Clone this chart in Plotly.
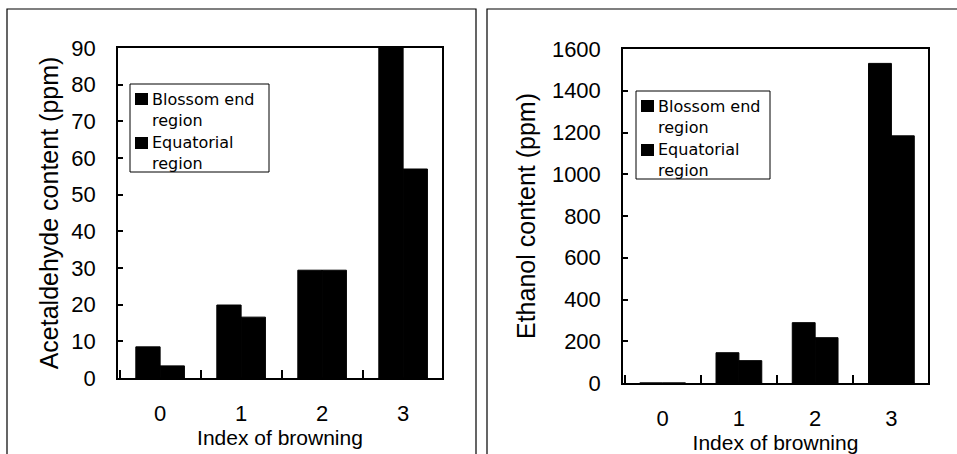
import plotly.graph_objects as go

categories = ["0", "1", "2", "3"]
acet_blossom = [8.5, 19.9, 29.4, 90]
acet_equatorial = [3.3, 16.6, 29.4, 57]
eth_blossom = [0, 145, 289, 1531]
eth_equatorial = [0, 107, 217, 1184]
acet_ticks = [0, 10, 20, 30, 40, 50, 60, 70, 80, 90]
eth_ticks = [0, 200, 400, 600, 800, 1000, 1200, 1400, 1600]
series_names = ["Blossom end region", "Equatorial region"]
legend_text = ["Blossom end<br>region", "Equatorial<br>region"]

W, H = 957, 454
FONT = "Liberation Sans"
LFONT = "DejaVu Sans"

fig = go.Figure()
for vals, name in [(acet_blossom, series_names[0]), (acet_equatorial, series_names[1])]:
    fig.add_trace(go.Bar(x=categories, y=vals, name=name,
                         marker=dict(color="black", line=dict(width=1, color="black")),
                         xaxis="x", yaxis="y", showlegend=False))
for vals, name in [(eth_blossom, series_names[0]), (eth_equatorial, series_names[1])]:
    fig.add_trace(go.Bar(x=categories, y=vals, name=name,
                         marker=dict(color="black", line=dict(width=1, color="black")),
                         xaxis="x2", yaxis="y2", showlegend=False))


def px(v):
    return v / W


def py(v):
    return 1 - v / H


xcommon = dict(type="category", range=[-0.52, 3.48], showline=True, linecolor="black", linewidth=1.5,
               mirror=True, ticks="inside", tickson="boundaries", ticklen=8, tickwidth=1.5, tickcolor="black",
               showgrid=False, zeroline=False, ticklabelstandoff=15, automargin=False,
               tickfont=dict(family=FONT, size=22, color="black"),
               title=dict(text="Index of browning", font=dict(family=FONT, size=21, color="black"), standoff=0))
ycommon = dict(showline=True, linecolor="black", linewidth=1.5, mirror=True, ticks="inside", ticklen=5,
               tickwidth=1.5, tickcolor="black", showgrid=False, zeroline=False, ticklabelstandoff=16,
               automargin=False, tickfont=dict(family=FONT, size=22, color="black"))

fig.update_layout(
    template="none",
    width=W, height=H, margin=dict(l=0, r=0, t=0, b=0, pad=0, autoexpand=False),
    paper_bgcolor="white", plot_bgcolor="white",
    barmode="group", bargap=0.4, bargroupgap=0,
    font=dict(family=FONT, color="black"),
    xaxis=dict(domain=[px(118), px(442)], anchor="y", **xcommon),
    xaxis2=dict(domain=[px(623), px(928)], anchor="y2", **xcommon),
    yaxis=dict(domain=[py(378), py(48)], anchor="x", range=[0, 90], tickvals=acet_ticks,
               title=dict(text="Acetaldehyde content (ppm)", font=dict(family=FONT, size=25, color="black"),
                          standoff=6),
               **ycommon),
    yaxis2=dict(domain=[py(383), py(49)], anchor="x2", range=[0, 1600], tickvals=eth_ticks,
                title=dict(text="Ethanol content (ppm)", font=dict(family=FONT, size=25, color="black"),
                           standoff=9),
                **ycommon),
    showlegend=False,
)

# outer panel frames
fig.add_shape(type="path", xref="paper", yref="paper",
              path=f"M {px(7)} 0 L {px(7)} {py(9)} L {px(476)} {py(9)} L {px(476)} 0",
              line=dict(color="black", width=1.2))
fig.add_shape(type="path", xref="paper", yref="paper",
              path=f"M {px(487)} 0 L {px(487)} {py(9)} L 1 {py(9)}",
              line=dict(color="black", width=1.2))

# legends (box, swatches, text)
for (bx, by, bw, bh) in [(130, 84, 139, 88), (636, 91, 134, 88)]:
    fig.add_shape(type="rect", xref="paper", yref="paper",
                  x0=px(bx), x1=px(bx + bw), y0=py(by), y1=py(by + bh),
                  line=dict(color="black", width=1), fillcolor="white", layer="above")
    for i, txt in enumerate(legend_text):
        top = by + 9 + i * 44
        fig.add_shape(type="rect", xref="paper", yref="paper",
                      x0=px(bx + 5), x1=px(bx + 18), y0=py(top), y1=py(top + 12),
                      line=dict(width=0), fillcolor="black", layer="above")
        fig.add_annotation(text=txt, xref="paper", yref="paper", x=px(bx + 20),
                           y=py(by + 26 + i * 43), xanchor="left", yanchor="middle", align="left",
                           showarrow=False, font=dict(family=LFONT, size=16, color="black"))

fig.write_html("out.html", config={"displayModeBar": False},
               post_script="document.body.style.margin='0';document.body.style.overflow='hidden';")
